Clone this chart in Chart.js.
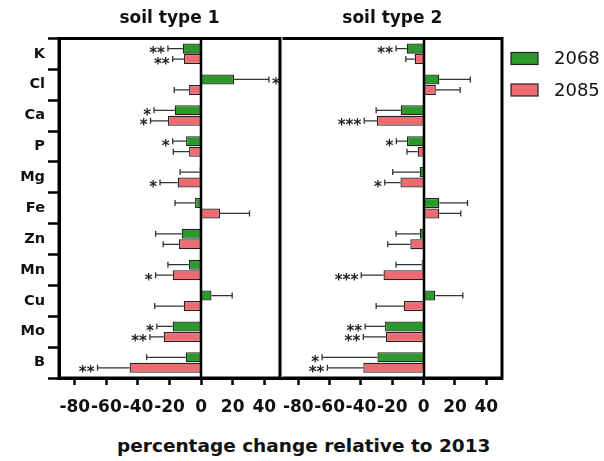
<!DOCTYPE html>
<html>
<head>
<meta charset="utf-8">
<script src="https://cdn.jsdelivr.net/npm/chart.js@4.4.1/dist/chart.umd.min.js"></script>
<style>
  body { margin: 0; background: #fff; width: 604px; height: 461px; overflow: hidden; position: relative; font-family: "DejaVu Sans", sans-serif; }
  #c1 { position: absolute; left: 0; top: 0; }
  #c2 { position: absolute; left: 270px; top: 0; }
  #xtitle { position: absolute; left: 117px; top: 435px; white-space: nowrap; font-weight: bold; font-size: 18.5px; color: #111; }
</style>
</head>
<body>
<canvas id="c1" width="290" height="420"></canvas>
<canvas id="c2" width="334" height="420"></canvas>
<div id="xtitle">percentage change relative to 2013</div>
<script>
const elements = ['K', 'Cl', 'Ca', 'P', 'Mg', 'Fe', 'Zn', 'Mn', 'Cu', 'Mo', 'B'];
const xTicks = [-80, -60, -40, -20, 0, 20, 40];
const seriesNames = ['2068', '2085'];

// soil type 1
const soil1_2068 = [-11.6, 21, -16.7, -9.5, -1, -3.8, -12.3, -7.8, 6.6, -18, -9.7];
const soil1_2068_err = [9.4, 22, 13.1, 8.5, 12.3, 12.7, 16.5, 13.2, 13.1, 10, 24.8];
const soil1_2068_sig = ['**', '*', '*', '*', '', '', '', '', '', '*', ''];
const soil1_2085 = [-10.8, -7.6, -21, -7.6, -14.8, 12, -14, -18, -11, -23.7, -45.3];
const soil1_2085_err = [7.2, 9.4, 11, 10, 11.2, 18.7, 10, 10.8, 18.4, 8.7, 20.3];
const soil1_2085_sig = ['**', '', '*', '', '*', '', '', '*', '', '**', '**'];

// soil type 2
const soil2_2068 = [-10.8, 10, -14.6, -10.6, -2.5, 10, -2.5, -1.3, 7.4, -24.6, -29.5];
const soil2_2068_err = [6.8, 19.8, 15.7, 6.8, 17.2, 18, 15.1, 16.3, 17.6, 12.7, 35.3];
const soil2_2068_sig = ['**', '', '', '*', '', '', '', '', '', '**', '*'];
const soil2_2085 = [-5.7, 7.8, -29.8, -3.8, -14.8, 10, -8.5, -25.6, -12.7, -24.1, -38.5];
const soil2_2085_err = [5.7, 15.5, 8.1, 6.8, 10, 13.7, 14.4, 14.2, 17.6, 14.4, 22.9];
const soil2_2085_sig = ['', '', '***', '', '*', '', '', '***', '', '**', '**'];

const green = '#2b9a2b';
const red = '#ee6b72';
const FONT = '"DejaVu Sans", sans-serif';

// error bars, significance stars, frame and zero line
const decorPlugin = {
  id: 'decor',
  afterDatasetsDraw(chart) {
    const ctx = chart.ctx;
    const area = chart.chartArea;
    const xs = chart.scales.x;
    ctx.save();
    // zero line
    ctx.strokeStyle = '#000';
    ctx.lineWidth = 2.5;
    const x0 = Math.round(xs.getPixelForValue(0));
    ctx.beginPath();
    ctx.moveTo(x0, area.top);
    ctx.lineTo(x0, area.bottom);
    ctx.stroke();

    chart.data.datasets.forEach((ds, di) => {
      const meta = chart.getDatasetMeta(di);
      meta.data.forEach((bar, i) => {
        const v = ds.data[i];
        const dir = v < 0 ? -1 : 1;
        const end = xs.getPixelForValue(v + dir * ds.errors[i]);
        const y = bar.y;
        ctx.strokeStyle = '#333';
        ctx.lineWidth = 1.3;
        ctx.beginPath();
        ctx.moveTo(bar.x, y);
        ctx.lineTo(end, y);
        ctx.moveTo(end, y - 3);
        ctx.lineTo(end, y + 3);
        ctx.stroke();
        const s = ds.stars[i];
        if (s) {
          ctx.fillStyle = '#222';
          ctx.font = 'bold 15px ' + FONT;
          ctx.textBaseline = 'alphabetic';
          ctx.textAlign = dir < 0 ? 'right' : 'left';
          ctx.fillText(s, end + dir * 3, y + 9.5);
        }
      });
    });

    // frame (the second panel shares its left edge with the first one)
    ctx.strokeStyle = '#000';
    ctx.lineWidth = 3;
    ctx.beginPath();
    ctx.moveTo(area.left, area.top);
    ctx.lineTo(area.right, area.top);
    ctx.lineTo(area.right, area.bottom);
    ctx.lineTo(area.left, area.bottom);
    if (chart.canvas.id === 'c1') ctx.closePath();
    ctx.stroke();
    ctx.restore();
  }
};

const legendPlugin = {
  id: 'sideLegend',
  afterDraw(chart) {
    const ctx = chart.ctx;
    ctx.save();
    chart.data.datasets.forEach((ds, i) => {
      const y = 58.5 + i * 31.5;
      ctx.fillStyle = ds.backgroundColor;
      ctx.fillRect(241, y - 6, 27, 12);
      ctx.strokeStyle = '#222';
      ctx.lineWidth = 1.2;
      ctx.strokeRect(241, y - 6, 27, 12);
      ctx.fillStyle = '#111';
      ctx.font = '18px ' + FONT;
      ctx.textBaseline = 'middle';
      ctx.textAlign = 'left';
      ctx.fillText(ds.label, 284, y + 1);
    });
    ctx.restore();
  }
};

function makeChart(id, title, vals1, err1, sig1, vals2, err2, sig2, showY, padding) {
  return new Chart(document.getElementById(id), {
    type: 'bar',
    data: {
      labels: elements,
      datasets: [
        { label: seriesNames[0], data: vals1, errors: err1, stars: sig1, backgroundColor: green, borderColor: '#222', borderWidth: 1.3 },
        { label: seriesNames[1], data: vals2, errors: err2, stars: sig2, backgroundColor: red, borderColor: '#222', borderWidth: 1.3 }
      ]
    },
    options: {
      indexAxis: 'y',
      responsive: false,
      animation: false,
      datasets: { bar: { categoryPercentage: 0.68, barPercentage: 0.96 } },
      layout: { padding: padding },
      plugins: {
        legend: { display: false },
        tooltip: { enabled: false },
        title: {
          display: true, text: title, fullSize: false, color: '#111',
          font: { family: FONT, size: 17, weight: 'bold' },
          padding: { top: 8, bottom: 10 }
        }
      },
      scales: {
        x: {
          min: -90, max: 50,
          afterBuildTicks: scale => { scale.ticks = xTicks.map(v => ({ value: v })); },
          afterFit: scale => { scale.height = 42; },
          grid: { drawOnChartArea: false, drawTicks: true, tickLength: 7, tickWidth: 2.5, tickColor: '#000' },
          border: { display: true, color: '#000', width: 3 },
          ticks: { color: '#111', padding: 12, maxRotation: 0, autoSkip: false, font: { family: FONT, size: 17, weight: 'bold' } }
        },
        y: {
          display: showY,
          afterFit: scale => { if (showY) scale.width = 59; },
          grid: { drawOnChartArea: false, drawTicks: true, tickLength: 11, tickWidth: 2.5, tickColor: '#000' },
          border: { display: true, color: '#000', width: 3 },
          ticks: { color: '#111', padding: 3, font: { family: FONT, size: 14.5, weight: 'bold' } }
        }
      }
    },
    plugins: id === 'c2' ? [decorPlugin, legendPlugin] : [decorPlugin]
  });
}

makeChart('c1', 'soil type 1', soil1_2068, soil1_2068_err, soil1_2068_sig, soil1_2085, soil1_2085_err, soil1_2085_sig, true, { left: 0, right: 10, top: 0, bottom: 0 });
makeChart('c2', 'soil type 2', soil2_2068, soil2_2068_err, soil2_2068_sig, soil2_2085, soil2_2085_err, soil2_2085_sig, false, { left: 10, right: 102, top: 0, bottom: 0 });
</script>
</body>
</html>
